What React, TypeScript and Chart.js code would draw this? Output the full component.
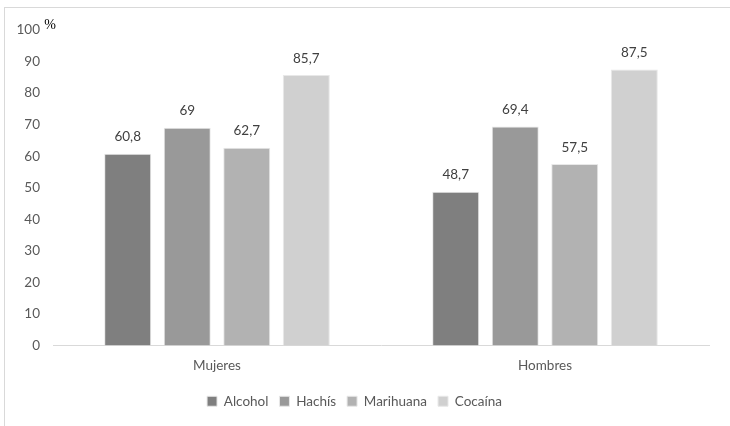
import React, { useEffect, useRef } from "react";
import { Chart, registerables } from "chart.js";

Chart.register(...registerables);

const categories = ["Mujeres", "Hombres"];
const seriesNames = ["Alcohol", "Hachís", "Marihuana", "Cocaína"];
const alcohol = [60.8, 48.7];
const hachis = [69, 69.4];
const marihuana = [62.7, 57.5];
const cocaina = [85.7, 87.5];
const colors = ["#7f7f7f", "#999999", "#b2b2b2", "#d0d0d0"];
const yTicksMax = 100;
const yStep = 10;

const FONT = "Lato, 'Liberation Sans', sans-serif";

const fmt = (v: number) => String(v).replace(".", ",");

const labelPlugin = {
  id: "valueLabels",
  afterDatasetsDraw(chart: any) {
    const ctx = chart.ctx;
    ctx.save();
    ctx.font = `13.5px ${FONT}`;
    ctx.fillStyle = "#404040";
    ctx.textAlign = "center";
    ctx.textBaseline = "bottom";
    chart.data.datasets.forEach((ds: any, i: number) => {
      const meta = chart.getDatasetMeta(i);
      meta.data.forEach((bar: any, j: number) => {
        ctx.fillText(fmt(ds.data[j]), bar.x, bar.y - 10);
      });
    });
    // percent sign
    ctx.font = "14px 'Liberation Serif', 'DejaVu Serif', serif";
    ctx.fillStyle = "#000000";
    ctx.textAlign = "center";
    ctx.textBaseline = "middle";
    ctx.fillText("%", chart.chartArea.left - 3, chart.chartArea.top - 5);
    ctx.restore();
  },
};

export default function App() {
  const ref = useRef<HTMLCanvasElement>(null);
  useEffect(() => {
    if (!ref.current) return;
    const series = [alcohol, hachis, marihuana, cocaina];
    const chart = new Chart(ref.current, {
      type: "bar",
      data: {
        labels: categories,
        datasets: seriesNames.map((name, i) => ({
          label: name,
          data: series[i],
          backgroundColor: colors[i],
          borderColor: "#e8e8e8",
          borderWidth: 1,
          categoryPercentage: 0.726,
          barPercentage: 0.79,
        })),
      },
      options: {
        animation: false,
        responsive: false,
        maintainAspectRatio: false,
        layout: { padding: { top: 30, left: 0, right: 21, bottom: 8 } },
        plugins: {
          legend: {
            position: "bottom",
            labels: {
              boxWidth: 10,
              boxHeight: 10,
              padding: 11,
              color: "#595959",
              font: { family: FONT, size: 13.5 },
            },
          },
          tooltip: { enabled: false },
        },
        scales: {
          x: {
            grid: { display: false, drawTicks: false },
            border: { color: "#d9d9d9", width: 1 },
            ticks: { color: "#595959", font: { family: FONT, size: 13.5 }, padding: 12 },
            afterFit(scale: any) {
              scale.height = 38;
            },
          },
          y: {
            min: 0,
            max: yTicksMax,
            grid: { display: false, drawTicks: false },
            border: { display: false },
            ticks: {
              stepSize: yStep,
              color: "#595959",
              font: { family: FONT, size: 13.5 },
              padding: 13,
            },
            afterFit(scale: any) {
              scale.width = 53;
            },
          },
        },
      },
      plugins: [labelPlugin],
    });
    return () => chart.destroy();
  }, []);

  return (
    <div
      style={{
        position: "fixed",
        left: 0,
        top: 0,
        width: 730,
        height: 426,
        overflow: "hidden",
        background: "#ffffff",
      }}
    >
      <div
        style={{
          position: "absolute",
          left: 4,
          top: 7,
          width: 760,
          height: 460,
          border: "1px solid #d9d9d9",
        }}
      />
      <canvas
        ref={ref}
        width={730}
        height={426}
        style={{ position: "absolute", left: 0, top: 0, width: 730, height: 426 }}
      />
    </div>
  );
}
